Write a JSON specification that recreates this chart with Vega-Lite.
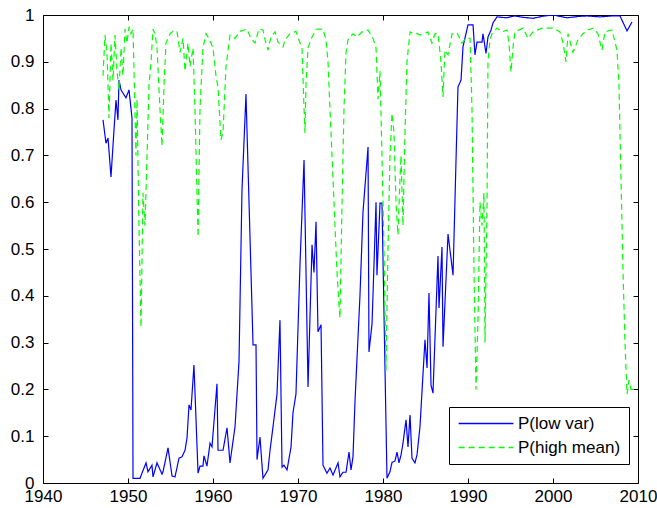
{
  "$schema": "https://vega.github.io/schema/vega-lite/v6.json",
  "width": 595,
  "height": 468,
  "autosize": {"type": "none"},
  "padding": {"left": 43, "top": 15, "right": 19, "bottom": 25},
  "config": {
    "font": "Liberation Sans",
    "view": {"stroke": "black", "strokeWidth": 1},
    "axis": {"domain": false, "grid": false, "tickColor": "black", "tickSize": -5, "labelColor": "black", "labelFontSize": 17, "labelFont": "Liberation Sans", "title": null}
  },
  "datasets": {
    "d": [
      {"t":1947.06,"v":0.776,"s":"P(low var)"},{"t":1947.41,"v":0.726,"s":"P(low var)"},{"t":1947.65,"v":0.737,"s":"P(low var)"},{"t":1948.0,"v":0.654,"s":"P(low var)"},{"t":1948.35,"v":0.754,"s":"P(low var)"},{"t":1948.59,"v":0.818,"s":"P(low var)"},{"t":1948.82,"v":0.776,"s":"P(low var)"},{"t":1948.94,"v":0.861,"s":"P(low var)"},{"t":1949.18,"v":0.84,"s":"P(low var)"},{"t":1949.41,"v":0.833,"s":"P(low var)"},{"t":1949.76,"v":0.823,"s":"P(low var)"},{"t":1950.12,"v":0.84,"s":"P(low var)"},{"t":1950.47,"v":0.78,"s":"P(low var)"},{"t":1950.59,"v":0.01,"s":"P(low var)"},{"t":1951.41,"v":0.01,"s":"P(low var)"},{"t":1952.12,"v":0.043,"s":"P(low var)"},{"t":1952.35,"v":0.024,"s":"P(low var)"},{"t":1952.82,"v":0.038,"s":"P(low var)"},{"t":1952.94,"v":0.013,"s":"P(low var)"},{"t":1953.41,"v":0.043,"s":"P(low var)"},{"t":1954.0,"v":0.019,"s":"P(low var)"},{"t":1954.12,"v":0.024,"s":"P(low var)"},{"t":1954.71,"v":0.075,"s":"P(low var)"},{"t":1955.18,"v":0.015,"s":"P(low var)"},{"t":1955.53,"v":0.013,"s":"P(low var)"},{"t":1956.0,"v":0.053,"s":"P(low var)"},{"t":1956.35,"v":0.056,"s":"P(low var)"},{"t":1956.71,"v":0.07,"s":"P(low var)"},{"t":1956.94,"v":0.096,"s":"P(low var)"},{"t":1957.18,"v":0.167,"s":"P(low var)"},{"t":1957.41,"v":0.156,"s":"P(low var)"},{"t":1957.76,"v":0.252,"s":"P(low var)"},{"t":1958.24,"v":0.021,"s":"P(low var)"},{"t":1958.47,"v":0.036,"s":"P(low var)"},{"t":1958.82,"v":0.036,"s":"P(low var)"},{"t":1958.94,"v":0.058,"s":"P(low var)"},{"t":1959.29,"v":0.036,"s":"P(low var)"},{"t":1959.65,"v":0.085,"s":"P(low var)"},{"t":1959.88,"v":0.077,"s":"P(low var)"},{"t":1960.47,"v":0.212,"s":"P(low var)"},{"t":1960.59,"v":0.07,"s":"P(low var)"},{"t":1961.18,"v":0.07,"s":"P(low var)"},{"t":1961.65,"v":0.118,"s":"P(low var)"},{"t":1962.0,"v":0.043,"s":"P(low var)"},{"t":1962.59,"v":0.12,"s":"P(low var)"},{"t":1963.06,"v":0.26,"s":"P(low var)"},{"t":1963.41,"v":0.626,"s":"P(low var)"},{"t":1963.88,"v":0.831,"s":"P(low var)"},{"t":1964.71,"v":0.295,"s":"P(low var)"},{"t":1965.06,"v":0.295,"s":"P(low var)"},{"t":1965.18,"v":0.05,"s":"P(low var)"},{"t":1965.53,"v":0.098,"s":"P(low var)"},{"t":1965.88,"v":0.01,"s":"P(low var)"},{"t":1966.47,"v":0.028,"s":"P(low var)"},{"t":1966.71,"v":0.07,"s":"P(low var)"},{"t":1967.06,"v":0.12,"s":"P(low var)"},{"t":1967.53,"v":0.19,"s":"P(low var)"},{"t":1967.88,"v":0.348,"s":"P(low var)"},{"t":1968.12,"v":0.034,"s":"P(low var)"},{"t":1968.35,"v":0.038,"s":"P(low var)"},{"t":1968.71,"v":0.028,"s":"P(low var)"},{"t":1969.18,"v":0.077,"s":"P(low var)"},{"t":1969.41,"v":0.15,"s":"P(low var)"},{"t":1969.76,"v":0.19,"s":"P(low var)"},{"t":1970.24,"v":0.47,"s":"P(low var)"},{"t":1970.71,"v":0.69,"s":"P(low var)"},{"t":1971.18,"v":0.205,"s":"P(low var)"},{"t":1971.65,"v":0.509,"s":"P(low var)"},{"t":1971.88,"v":0.45,"s":"P(low var)"},{"t":1972.12,"v":0.558,"s":"P(low var)"},{"t":1972.35,"v":0.323,"s":"P(low var)"},{"t":1972.71,"v":0.338,"s":"P(low var)"},{"t":1972.94,"v":0.038,"s":"P(low var)"},{"t":1973.41,"v":0.021,"s":"P(low var)"},{"t":1973.76,"v":0.032,"s":"P(low var)"},{"t":1974.12,"v":0.017,"s":"P(low var)"},{"t":1974.71,"v":0.043,"s":"P(low var)"},{"t":1974.94,"v":0.013,"s":"P(low var)"},{"t":1975.29,"v":0.023,"s":"P(low var)"},{"t":1975.65,"v":0.023,"s":"P(low var)"},{"t":1976.0,"v":0.066,"s":"P(low var)"},{"t":1976.24,"v":0.028,"s":"P(low var)"},{"t":1976.47,"v":0.056,"s":"P(low var)"},{"t":1976.71,"v":0.177,"s":"P(low var)"},{"t":1977.29,"v":0.4,"s":"P(low var)"},{"t":1977.65,"v":0.58,"s":"P(low var)"},{"t":1978.24,"v":0.718,"s":"P(low var)"},{"t":1978.35,"v":0.28,"s":"P(low var)"},{"t":1978.71,"v":0.34,"s":"P(low var)"},{"t":1979.18,"v":0.6,"s":"P(low var)"},{"t":1979.29,"v":0.444,"s":"P(low var)"},{"t":1979.65,"v":0.598,"s":"P(low var)"},{"t":1979.88,"v":0.598,"s":"P(low var)"},{"t":1980.47,"v":0.01,"s":"P(low var)"},{"t":1980.82,"v":0.024,"s":"P(low var)"},{"t":1981.06,"v":0.044,"s":"P(low var)"},{"t":1981.41,"v":0.047,"s":"P(low var)"},{"t":1981.65,"v":0.066,"s":"P(low var)"},{"t":1981.88,"v":0.043,"s":"P(low var)"},{"t":1982.12,"v":0.06,"s":"P(low var)"},{"t":1982.35,"v":0.085,"s":"P(low var)"},{"t":1982.71,"v":0.135,"s":"P(low var)"},{"t":1982.94,"v":0.077,"s":"P(low var)"},{"t":1983.18,"v":0.145,"s":"P(low var)"},{"t":1983.41,"v":0.053,"s":"P(low var)"},{"t":1983.76,"v":0.043,"s":"P(low var)"},{"t":1984.0,"v":0.06,"s":"P(low var)"},{"t":1984.35,"v":0.12,"s":"P(low var)"},{"t":1984.94,"v":0.306,"s":"P(low var)"},{"t":1985.18,"v":0.246,"s":"P(low var)"},{"t":1985.41,"v":0.406,"s":"P(low var)"},{"t":1985.65,"v":0.209,"s":"P(low var)"},{"t":1985.88,"v":0.192,"s":"P(low var)"},{"t":1986.47,"v":0.485,"s":"P(low var)"},{"t":1986.59,"v":0.374,"s":"P(low var)"},{"t":1986.94,"v":0.504,"s":"P(low var)"},{"t":1987.06,"v":0.291,"s":"P(low var)"},{"t":1987.65,"v":0.532,"s":"P(low var)"},{"t":1988.24,"v":0.444,"s":"P(low var)"},{"t":1988.59,"v":0.69,"s":"P(low var)"},{"t":1988.82,"v":0.846,"s":"P(low var)"},{"t":1989.18,"v":0.861,"s":"P(low var)"},{"t":1989.41,"v":0.932,"s":"P(low var)"},{"t":1990.0,"v":0.979,"s":"P(low var)"},{"t":1990.59,"v":0.979,"s":"P(low var)"},{"t":1990.82,"v":0.915,"s":"P(low var)"},{"t":1991.06,"v":0.942,"s":"P(low var)"},{"t":1991.65,"v":0.942,"s":"P(low var)"},{"t":1991.76,"v":0.96,"s":"P(low var)"},{"t":1992.12,"v":0.918,"s":"P(low var)"},{"t":1992.35,"v":0.953,"s":"P(low var)"},{"t":1992.71,"v":0.968,"s":"P(low var)"},{"t":1992.94,"v":0.983,"s":"P(low var)"},{"t":1993.41,"v":0.996,"s":"P(low var)"},{"t":1994.5,"v":0.994,"s":"P(low var)"},{"t":1995.5,"v":0.998,"s":"P(low var)"},{"t":1996.5,"v":0.995,"s":"P(low var)"},{"t":1997.65,"v":0.993,"s":"P(low var)"},{"t":1999.0,"v":0.998,"s":"P(low var)"},{"t":2000.0,"v":1.0,"s":"P(low var)"},{"t":2001.65,"v":0.994,"s":"P(low var)"},{"t":2003.0,"v":0.997,"s":"P(low var)"},{"t":2004.0,"v":0.998,"s":"P(low var)"},{"t":2005.5,"v":0.996,"s":"P(low var)"},{"t":2007.0,"v":0.998,"s":"P(low var)"},{"t":2007.88,"v":0.998,"s":"P(low var)"},{"t":2008.71,"v":0.966,"s":"P(low var)"},{"t":2009.29,"v":0.985,"s":"P(low var)"},

      {"t":1947.06,"v":0.87,"s":"P(high mean)"},{"t":1947.29,"v":0.957,"s":"P(high mean)"},{"t":1947.53,"v":0.92,"s":"P(high mean)"},{"t":1947.76,"v":0.78,"s":"P(high mean)"},{"t":1948.0,"v":0.94,"s":"P(high mean)"},{"t":1948.24,"v":0.86,"s":"P(high mean)"},{"t":1948.47,"v":0.957,"s":"P(high mean)"},{"t":1948.71,"v":0.88,"s":"P(high mean)"},{"t":1948.94,"v":0.84,"s":"P(high mean)"},{"t":1949.18,"v":0.93,"s":"P(high mean)"},{"t":1949.41,"v":0.87,"s":"P(high mean)"},{"t":1949.65,"v":0.97,"s":"P(high mean)"},{"t":1949.88,"v":0.94,"s":"P(high mean)"},{"t":1950.12,"v":0.975,"s":"P(high mean)"},{"t":1950.35,"v":0.96,"s":"P(high mean)"},{"t":1950.59,"v":0.97,"s":"P(high mean)"},{"t":1950.94,"v":0.7,"s":"P(high mean)"},{"t":1951.06,"v":0.82,"s":"P(high mean)"},{"t":1951.29,"v":0.55,"s":"P(high mean)"},{"t":1951.53,"v":0.333,"s":"P(high mean)"},{"t":1951.76,"v":0.62,"s":"P(high mean)"},{"t":1952.0,"v":0.55,"s":"P(high mean)"},{"t":1952.24,"v":0.7,"s":"P(high mean)"},{"t":1952.47,"v":0.85,"s":"P(high mean)"},{"t":1952.71,"v":0.9,"s":"P(high mean)"},{"t":1952.94,"v":0.97,"s":"P(high mean)"},{"t":1953.18,"v":0.96,"s":"P(high mean)"},{"t":1953.41,"v":0.93,"s":"P(high mean)"},{"t":1953.76,"v":0.8,"s":"P(high mean)"},{"t":1954.0,"v":0.72,"s":"P(high mean)"},{"t":1954.24,"v":0.85,"s":"P(high mean)"},{"t":1954.47,"v":0.94,"s":"P(high mean)"},{"t":1954.94,"v":0.96,"s":"P(high mean)"},{"t":1955.29,"v":0.965,"s":"P(high mean)"},{"t":1955.76,"v":0.965,"s":"P(high mean)"},{"t":1956.12,"v":0.92,"s":"P(high mean)"},{"t":1956.47,"v":0.95,"s":"P(high mean)"},{"t":1956.71,"v":0.88,"s":"P(high mean)"},{"t":1957.06,"v":0.94,"s":"P(high mean)"},{"t":1957.29,"v":0.89,"s":"P(high mean)"},{"t":1957.65,"v":0.93,"s":"P(high mean)"},{"t":1957.88,"v":0.8,"s":"P(high mean)"},{"t":1958.24,"v":0.526,"s":"P(high mean)"},{"t":1958.47,"v":0.8,"s":"P(high mean)"},{"t":1958.82,"v":0.93,"s":"P(high mean)"},{"t":1959.18,"v":0.96,"s":"P(high mean)"},{"t":1959.53,"v":0.95,"s":"P(high mean)"},{"t":1960.0,"v":0.93,"s":"P(high mean)"},{"t":1960.35,"v":0.87,"s":"P(high mean)"},{"t":1960.59,"v":0.846,"s":"P(high mean)"},{"t":1960.94,"v":0.733,"s":"P(high mean)"},{"t":1961.18,"v":0.75,"s":"P(high mean)"},{"t":1961.53,"v":0.89,"s":"P(high mean)"},{"t":1962.0,"v":0.957,"s":"P(high mean)"},{"t":1962.59,"v":0.95,"s":"P(high mean)"},{"t":1963.18,"v":0.965,"s":"P(high mean)"},{"t":1964.0,"v":0.97,"s":"P(high mean)"},{"t":1964.47,"v":0.95,"s":"P(high mean)"},{"t":1964.94,"v":0.94,"s":"P(high mean)"},{"t":1965.41,"v":0.97,"s":"P(high mean)"},{"t":1965.88,"v":0.968,"s":"P(high mean)"},{"t":1966.12,"v":0.947,"s":"P(high mean)"},{"t":1966.47,"v":0.925,"s":"P(high mean)"},{"t":1966.82,"v":0.953,"s":"P(high mean)"},{"t":1967.29,"v":0.964,"s":"P(high mean)"},{"t":1967.65,"v":0.942,"s":"P(high mean)"},{"t":1968.24,"v":0.932,"s":"P(high mean)"},{"t":1968.47,"v":0.947,"s":"P(high mean)"},{"t":1969.06,"v":0.96,"s":"P(high mean)"},{"t":1969.76,"v":0.965,"s":"P(high mean)"},{"t":1970.24,"v":0.94,"s":"P(high mean)"},{"t":1970.47,"v":0.93,"s":"P(high mean)"},{"t":1970.71,"v":0.8,"s":"P(high mean)"},{"t":1970.82,"v":0.748,"s":"P(high mean)"},{"t":1970.94,"v":0.85,"s":"P(high mean)"},{"t":1971.18,"v":0.93,"s":"P(high mean)"},{"t":1971.65,"v":0.953,"s":"P(high mean)"},{"t":1972.24,"v":0.97,"s":"P(high mean)"},{"t":1972.94,"v":0.97,"s":"P(high mean)"},{"t":1973.29,"v":0.947,"s":"P(high mean)"},{"t":1973.53,"v":0.9,"s":"P(high mean)"},{"t":1973.76,"v":0.8,"s":"P(high mean)"},{"t":1974.12,"v":0.65,"s":"P(high mean)"},{"t":1974.35,"v":0.55,"s":"P(high mean)"},{"t":1974.59,"v":0.45,"s":"P(high mean)"},{"t":1974.82,"v":0.38,"s":"P(high mean)"},{"t":1974.94,"v":0.353,"s":"P(high mean)"},{"t":1975.18,"v":0.6,"s":"P(high mean)"},{"t":1975.41,"v":0.8,"s":"P(high mean)"},{"t":1975.65,"v":0.92,"s":"P(high mean)"},{"t":1975.88,"v":0.947,"s":"P(high mean)"},{"t":1976.47,"v":0.96,"s":"P(high mean)"},{"t":1976.94,"v":0.953,"s":"P(high mean)"},{"t":1977.53,"v":0.964,"s":"P(high mean)"},{"t":1978.24,"v":0.968,"s":"P(high mean)"},{"t":1978.82,"v":0.95,"s":"P(high mean)"},{"t":1979.18,"v":0.93,"s":"P(high mean)"},{"t":1979.41,"v":0.82,"s":"P(high mean)"},{"t":1979.65,"v":0.88,"s":"P(high mean)"},{"t":1979.88,"v":0.7,"s":"P(high mean)"},{"t":1980.12,"v":0.5,"s":"P(high mean)"},{"t":1980.35,"v":0.24,"s":"P(high mean)"},{"t":1980.59,"v":0.5,"s":"P(high mean)"},{"t":1980.82,"v":0.7,"s":"P(high mean)"},{"t":1981.06,"v":0.79,"s":"P(high mean)"},{"t":1981.29,"v":0.75,"s":"P(high mean)"},{"t":1981.53,"v":0.6,"s":"P(high mean)"},{"t":1981.76,"v":0.53,"s":"P(high mean)"},{"t":1982.0,"v":0.65,"s":"P(high mean)"},{"t":1982.12,"v":0.7,"s":"P(high mean)"},{"t":1982.35,"v":0.55,"s":"P(high mean)"},{"t":1982.59,"v":0.75,"s":"P(high mean)"},{"t":1982.82,"v":0.9,"s":"P(high mean)"},{"t":1983.18,"v":0.964,"s":"P(high mean)"},{"t":1983.65,"v":0.96,"s":"P(high mean)"},{"t":1984.0,"v":0.96,"s":"P(high mean)"},{"t":1984.35,"v":0.957,"s":"P(high mean)"},{"t":1984.82,"v":0.96,"s":"P(high mean)"},{"t":1985.29,"v":0.964,"s":"P(high mean)"},{"t":1985.76,"v":0.94,"s":"P(high mean)"},{"t":1986.12,"v":0.96,"s":"P(high mean)"},{"t":1986.47,"v":0.96,"s":"P(high mean)"},{"t":1986.82,"v":0.9,"s":"P(high mean)"},{"t":1987.06,"v":0.825,"s":"P(high mean)"},{"t":1987.29,"v":0.925,"s":"P(high mean)"},{"t":1987.65,"v":0.915,"s":"P(high mean)"},{"t":1988.12,"v":0.96,"s":"P(high mean)"},{"t":1988.71,"v":0.962,"s":"P(high mean)"},{"t":1989.29,"v":0.94,"s":"P(high mean)"},{"t":1989.76,"v":0.95,"s":"P(high mean)"},{"t":1990.24,"v":0.95,"s":"P(high mean)"},{"t":1990.47,"v":0.8,"s":"P(high mean)"},{"t":1990.71,"v":0.45,"s":"P(high mean)"},{"t":1990.94,"v":0.2,"s":"P(high mean)"},{"t":1991.18,"v":0.35,"s":"P(high mean)"},{"t":1991.41,"v":0.6,"s":"P(high mean)"},{"t":1991.65,"v":0.55,"s":"P(high mean)"},{"t":1991.88,"v":0.62,"s":"P(high mean)"},{"t":1992.0,"v":0.3,"s":"P(high mean)"},{"t":1992.24,"v":0.6,"s":"P(high mean)"},{"t":1992.35,"v":0.9,"s":"P(high mean)"},{"t":1992.59,"v":0.947,"s":"P(high mean)"},{"t":1992.82,"v":0.96,"s":"P(high mean)"},{"t":1993.41,"v":0.972,"s":"P(high mean)"},{"t":1994.0,"v":0.964,"s":"P(high mean)"},{"t":1994.59,"v":0.968,"s":"P(high mean)"},{"t":1994.82,"v":0.94,"s":"P(high mean)"},{"t":1995.06,"v":0.878,"s":"P(high mean)"},{"t":1995.29,"v":0.93,"s":"P(high mean)"},{"t":1995.53,"v":0.964,"s":"P(high mean)"},{"t":1996.47,"v":0.972,"s":"P(high mean)"},{"t":1997.06,"v":0.95,"s":"P(high mean)"},{"t":1997.65,"v":0.964,"s":"P(high mean)"},{"t":1998.71,"v":0.972,"s":"P(high mean)"},{"t":2000.0,"v":0.972,"s":"P(high mean)"},{"t":2000.82,"v":0.964,"s":"P(high mean)"},{"t":2001.18,"v":0.94,"s":"P(high mean)"},{"t":2001.53,"v":0.9,"s":"P(high mean)"},{"t":2001.76,"v":0.96,"s":"P(high mean)"},{"t":2002.35,"v":0.92,"s":"P(high mean)"},{"t":2002.94,"v":0.947,"s":"P(high mean)"},{"t":2003.53,"v":0.96,"s":"P(high mean)"},{"t":2004.12,"v":0.968,"s":"P(high mean)"},{"t":2004.71,"v":0.972,"s":"P(high mean)"},{"t":2005.29,"v":0.96,"s":"P(high mean)"},{"t":2005.76,"v":0.925,"s":"P(high mean)"},{"t":2006.12,"v":0.964,"s":"P(high mean)"},{"t":2006.94,"v":0.968,"s":"P(high mean)"},{"t":2007.53,"v":0.925,"s":"P(high mean)"},{"t":2007.76,"v":0.85,"s":"P(high mean)"},{"t":2008.0,"v":0.65,"s":"P(high mean)"},{"t":2008.24,"v":0.45,"s":"P(high mean)"},{"t":2008.47,"v":0.3,"s":"P(high mean)"},{"t":2008.71,"v":0.19,"s":"P(high mean)"},{"t":2008.94,"v":0.22,"s":"P(high mean)"},{"t":2009.18,"v":0.2,"s":"P(high mean)"},{"t":2009.53,"v":0.2,"s":"P(high mean)"},{"t":2009.88,"v":0.2,"s":"P(high mean)"}
    ]
  },
  "data": {"name": "d"},
  "layer": [
    {
      "mark": {"type": "line", "strokeWidth": 1.2, "clip": true},
      "encoding": {
        "x": {"field": "t", "type": "quantitative", "scale": {"domain": [1940, 2010], "nice": false, "zero": false}, "axis": {"orient": "bottom", "values": [1940,1950,1960,1970,1980,1990,2000,2010], "format": "d", "labelPadding": 10, "labelFlush": false}},
        "y": {"field": "v", "type": "quantitative", "scale": {"domain": [0, 1], "nice": false}, "axis": {"orient": "left", "values": [0,0.1,0.2,0.3,0.4,0.5,0.6,0.7,0.8,0.9,1], "format": ".1~f", "labelPadding": 14, "labelFlush": false}},
        "color": {"field": "s", "type": "nominal", "scale": {"domain": ["P(low var)", "P(high mean)"], "range": ["#0000ff", "#00ff00"]},
          "legend": {"orient": "none", "legendX": 406, "legendY": 392, "title": null, "strokeColor": "black", "fillColor": "white", "padding": 8, "symbolType": "M-2.5,0L17.5,0", "symbolSize": 30, "symbolStrokeWidth": 1.4, "labelFontSize": 17, "labelColor": "black", "labelFont": "Liberation Sans", "rowPadding": 6, "labelOffset": 44}},
        "strokeDash": {"field": "s", "type": "nominal", "scale": {"domain": ["P(low var)", "P(high mean)"], "range": [[1, 0], [6, 4]]}, "legend": {"orient": "none", "legendX": 406, "legendY": 392, "title": null}},
        "detail": {"field": "s"}
      }
    },
    {
      "mark": {"type": "line", "strokeOpacity": 0},
      "encoding": {
        "x": {"field": "t", "type": "quantitative", "scale": {"domain": [1940, 2010], "nice": false, "zero": false}, "axis": {"orient": "top", "values": [1940,1950,1960,1970,1980,1990,2000,2010], "labels": false}},
        "y": {"field": "v", "type": "quantitative", "scale": {"domain": [0, 1], "nice": false}, "axis": {"orient": "right", "values": [0,0.1,0.2,0.3,0.4,0.5,0.6,0.7,0.8,0.9,1], "labels": false}},
        "detail": {"field": "s"}
      }
    }
  ],
  "resolve": {"scale": {"x": "independent", "y": "independent"}}
}
